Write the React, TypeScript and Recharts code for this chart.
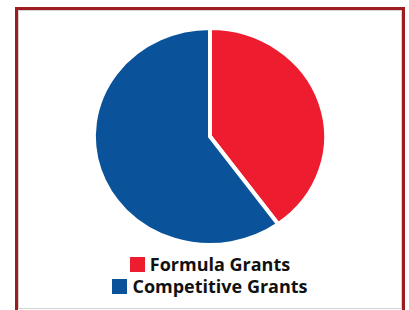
import { PieChart, Pie, Cell, Legend } from "recharts";

const categories = ["Formula Grants", "Competitive Grants"];
const shares = [40, 60];
const colors = ["#ed1c2e", "#0a5299"];

const data = categories.map((name, i) => ({ name, value: shares[i] }));

// the original pie is slightly wider than tall
const X_STRETCH = 1.07;

interface SectorProps {
  cx?: number;
  cy?: number;
  outerRadius?: number;
  startAngle?: number;
  endAngle?: number;
  fill?: string;
}

function EllipseSector({
  cx = 0,
  cy = 0,
  outerRadius = 0,
  startAngle = 0,
  endAngle = 0,
  fill,
}: SectorProps) {
  const rx = outerRadius * X_STRETCH;
  const ry = outerRadius;
  const rad = Math.PI / 180;
  const x1 = cx + rx * Math.cos(startAngle * rad);
  const y1 = cy - ry * Math.sin(startAngle * rad);
  const x2 = cx + rx * Math.cos(endAngle * rad);
  const y2 = cy - ry * Math.sin(endAngle * rad);
  const large = Math.abs(endAngle - startAngle) > 180 ? 1 : 0;
  const sweep = endAngle < startAngle ? 1 : 0;
  const d = `M${cx},${cy} L${x1},${y1} A${rx},${ry} 0 ${large} ${sweep} ${x2},${y2} Z`;
  return (
    <path d={d} fill={fill} stroke="#fff" strokeWidth={4} strokeLinejoin="miter" />
  );
}

function LegendBox() {
  return (
    <ul style={{ margin: 0, padding: 0, listStyle: "none", textAlign: "center" }}>
      {categories.map((c, i) => (
        <li
          key={c}
          style={{
            display: "block",
            height: 22,
            lineHeight: "22px",
            fontFamily: "'Open Sans', sans-serif",
            fontWeight: 700,
            fontSize: 18,
            color: "#111",
            whiteSpace: "nowrap",
          }}
        >
          <span
            style={{
              display: "inline-block",
              width: 15,
              height: 15,
              background: colors[i],
              marginRight: 5,
              verticalAlign: "-1px",
            }}
          />
          {c}
        </li>
      ))}
    </ul>
  );
}

export default function App() {
  return (
    <div
      style={{
        position: "absolute",
        left: 15,
        top: 7,
        width: 384,
        height: 320,
        border: "3px solid #9e1b20",
        background: "#fff",
      }}
    >
      <div
        style={{
          width: 382,
          height: 297,
          border: "1px solid #d4d4d4",
        }}
      >
        <PieChart width={382} height={297} margin={{ top: 0, right: 0, bottom: 0, left: 0 }}>
          <Pie
            data={data}
            dataKey="value"
            nameKey="name"
            cx={191}
            cy={125.5}
            outerRadius={108.5}
            startAngle={90}
            endAngle={-270}
            shape={<EllipseSector />}
            isAnimationActive={false}
          >
            {data.map((d, i) => (
              <Cell key={d.name} fill={colors[i]} />
            ))}
          </Pie>
          <Legend
            content={<LegendBox />}
            wrapperStyle={{ position: "absolute", top: 242, left: 0, width: 382 }}
          />
        </PieChart>
      </div>
    </div>
  );
}
